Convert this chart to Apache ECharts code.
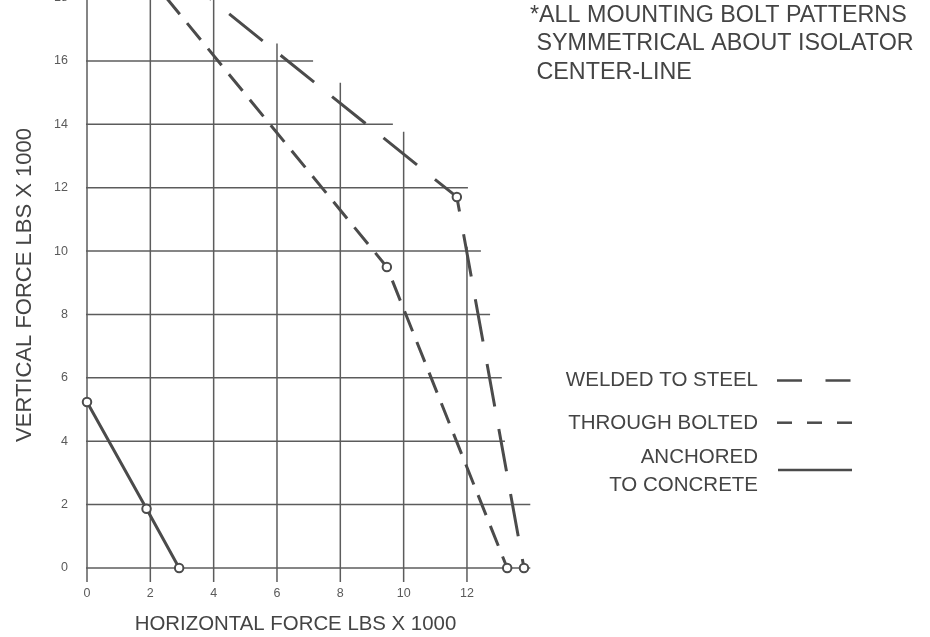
<!DOCTYPE html>
<html>
<head>
<meta charset="utf-8">
<script src="https://cdn.jsdelivr.net/npm/echarts@6/dist/echarts.min.js"></script>
<style>
html,body{margin:0;padding:0;background:#fff;}
#chart{width:930px;height:637px;}
</style>
</head>
<body>
<div id="chart"></div>
<script>
// ---- data (thousands of lbs) ----
var weldedToSteel   = [[3.85, 18], [11.68, 11.71], [13.8, 0]];
var throughBolted   = [[2.5, 18], [9.47, 9.5], [13.27, 0]];
var anchoredConcrete = [[0, 5.24], [1.88, 1.87], [2.91, 0]];
var markedWelded  = [false, true, true];
var markedBolted  = [false, true, true];
var markedAnchored = [true, true, true];

// grid (chart paper) extents, in data units
var hGridY   = [0, 2, 4, 6, 8, 10, 12, 14, 16];
var hGridEnd = [14, 14, 13.2, 13.1, 12.73, 12.44, 12.03, 9.66, 7.14];
var vGridX   = [0, 2, 4, 6, 8, 10, 12];
var vGridTop = [18, 18, 18, 16.55, 15.31, 13.77, 10.14];
var gridStartX = -0.47;
var gridStartY = -0.44;

var xTickLabels = ['0', '2', '4', '6', '8', '10', '12'];
var yTickLabels = ['0', '2', '4', '6', '8', '10', '12', '14', '16', '18'];

var legendNames = ['WELDED TO STEEL', 'THROUGH BOLTED', 'ANCHORED\nTO CONCRETE'];
var noteText = '*ALL MOUNTING BOLT PATTERNS\n SYMMETRICAL ABOUT ISOLATOR\n CENTER-LINE';
var xTitle = 'HORIZONTAL FORCE LBS X 1000';
var yTitle = 'VERTICAL FORCE LBS X 1000';

var INK = '#4b4b4b';
var GRIDC = '#5c5c5c';
var TXT = '#444';
var FONT = 'Liberation Sans, Arial, sans-serif';

function toItems(pts, marks) {
  return pts.map(function (p, i) {
    return marks[i] ? { value: p } : { value: p, symbol: 'none' };
  });
}

var series = [];
hGridY.forEach(function (y, i) {
  series.push({
    type: 'line', silent: true, clip: false, symbol: 'none', z: 1,
    lineStyle: { color: GRIDC, width: 1.5 },
    data: [[gridStartX, y], [hGridEnd[i], y]]
  });
});
vGridX.forEach(function (x, i) {
  series.push({
    type: 'line', silent: true, clip: false, symbol: 'none', z: 1,
    lineStyle: { color: GRIDC, width: 1.5 },
    data: [[x, gridStartY], [x, vGridTop[i]]]
  });
});

var markStyle = { color: INK, borderColor: INK, borderWidth: 1.4 };
series.push({
  name: legendNames[0], type: 'line', z: 3, symbol: 'emptyCircle', symbolSize: 8.5,
  lineStyle: { color: INK, width: 3, type: [43, 23], dashOffset: 40 },
  itemStyle: markStyle,
  data: toItems(weldedToSteel, markedWelded)
});
series.push({
  name: legendNames[1], type: 'line', z: 3, symbol: 'emptyCircle', symbolSize: 8.5,
  lineStyle: { color: INK, width: 3, type: [21.5, 11.5], dashOffset: 0 },
  itemStyle: markStyle,
  data: toItems(throughBolted, markedBolted)
});
series.push({
  name: legendNames[2], type: 'line', z: 3, symbol: 'emptyCircle', symbolSize: 8.5,
  lineStyle: { color: INK, width: 3 },
  itemStyle: markStyle,
  data: toItems(anchoredConcrete, markedAnchored)
});

var chart = echarts.init(document.getElementById('chart'), null, { renderer: 'canvas' });
chart.setOption({
  animation: false,
  backgroundColor: '#ffffff',
  grid: { left: 87, top: -2.4, width: 443.3, height: 570.4, containLabel: false, outerBoundsMode: 'none' },
  xAxis: {
    type: 'value', min: 0, max: 14, interval: 2,
    axisLine: { show: false }, axisTick: { show: false }, splitLine: { show: false },
    axisLabel: {
      margin: 19, color: '#5a5a5a', fontSize: 12.5, fontFamily: FONT,
      formatter: function (v) { var i = v / 2; return i < xTickLabels.length ? xTickLabels[i] : ''; }
    }
  },
  yAxis: {
    type: 'value', min: 0, max: 18, interval: 2,
    axisLine: { show: false }, axisTick: { show: false }, splitLine: { show: false },
    axisLabel: {
      margin: 19, color: '#5a5a5a', fontSize: 12.5, fontFamily: FONT,
      formatter: function (v) { return yTickLabels[v / 2]; }
    }
  },
  series: series,
  graphic: [
    { type: 'text', left: 530, top: 1, style: { text: noteText, font: '23.3px ' + FONT, fill: TXT, lineHeight: 28.5 } },
    { type: 'text', x: 295.5, y: 624.7, style: { text: xTitle, font: '20.4px ' + FONT, fill: TXT, align: 'center', verticalAlign: 'middle' } },
    { type: 'text', x: 25, y: 285, rotation: Math.PI / 2, style: { text: yTitle, font: '22px ' + FONT, fill: TXT, align: 'center', verticalAlign: 'middle' } },
    { type: 'text', x: 758, y: 380.7, style: { text: legendNames[0], font: '20.5px ' + FONT, fill: TXT, align: 'right', verticalAlign: 'middle' } },
    { type: 'text', x: 758, y: 423.3, style: { text: legendNames[1], font: '20.5px ' + FONT, fill: TXT, align: 'right', verticalAlign: 'middle' } },
    { type: 'text', x: 758, y: 471.5, style: { text: legendNames[2], font: '20.5px ' + FONT, fill: TXT, align: 'right', verticalAlign: 'middle', lineHeight: 27.5 } },
    { type: 'line', shape: { x1: 777, y1: 380.5, x2: 852, y2: 380.5 }, style: { stroke: INK, lineWidth: 2.5, lineDash: [25, 23.5] } },
    { type: 'line', shape: { x1: 777, y1: 422.7, x2: 852, y2: 422.7 }, style: { stroke: INK, lineWidth: 2.5, lineDash: [15, 15] } },
    { type: 'line', shape: { x1: 778, y1: 470, x2: 852, y2: 470 }, style: { stroke: INK, lineWidth: 2.5 } }
  ]
});
</script>
</body>
</html>
